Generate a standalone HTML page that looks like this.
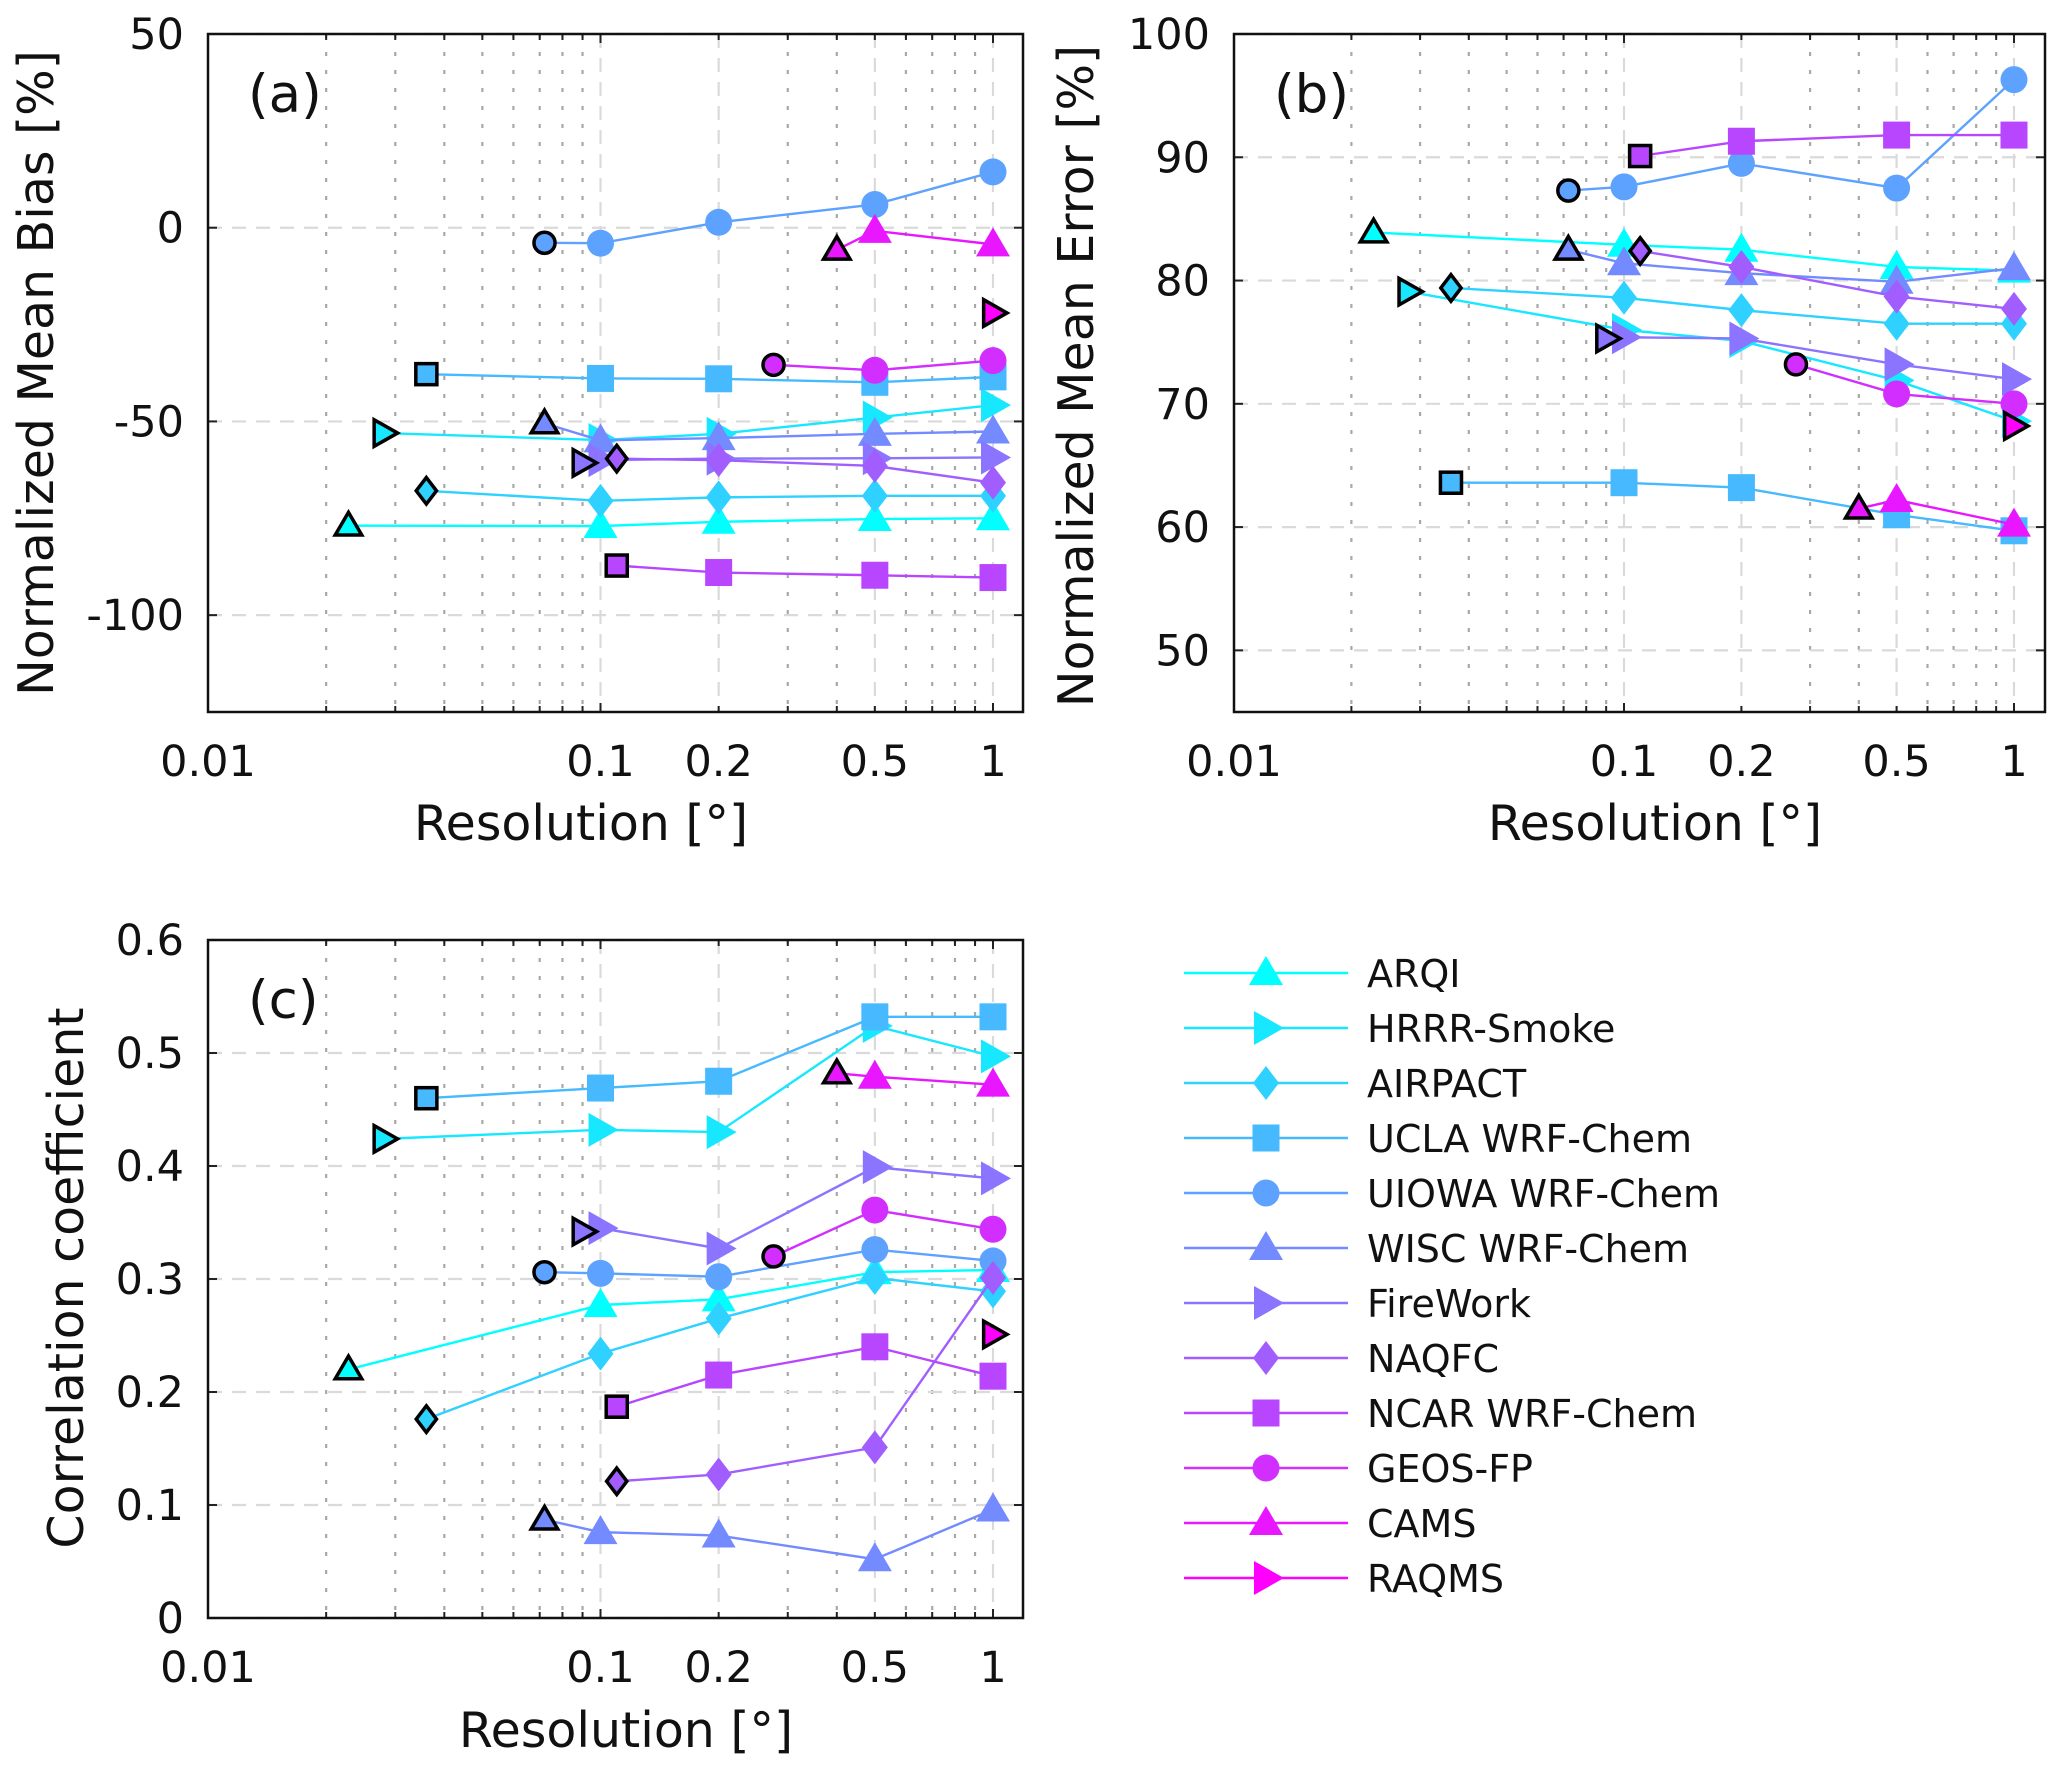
<!DOCTYPE html>
<html><head><meta charset="utf-8">
<style>
html,body{margin:0;padding:0;background:#fff;}
svg{display:block;font-family:"DejaVu Sans","Liberation Sans",sans-serif;}
</style></head>
<body>
<svg id="fig" width="2067" height="1768" viewBox="0 0 2067 1768" xmlns="http://www.w3.org/2000/svg"></svg>
<script>
// ---- data ----
const seriesNames = ["ARQI","HRRR-Smoke","AIRPACT","UCLA WRF-Chem","UIOWA WRF-Chem","WISC WRF-Chem","FireWork","NAQFC","NCAR WRF-Chem","GEOS-FP","CAMS","RAQMS"];
const seriesMarkers = ["tu","tr","d","s","c","tu","tr","d","s","c","tu","tr"];
const resARQI = [0.0228,0.1,0.2,0.5,1];
const resHRRR = [0.028,0.1,0.2,0.5,1];
const resAIRPACT = [0.036,0.1,0.2,0.5,1];
const resUCLA = [0.036,0.1,0.2,0.5,1];
const resUIOWA = [0.072,0.1,0.2,0.5,1];
const resWISC = [0.072,0.1,0.2,0.5,1];
const resFireWork = [0.09,0.1,0.2,0.5,1];
const resNAQFC = [0.11,0.2,0.5,1];
const resNCAR = [0.11,0.2,0.5,1];
const resGEOS = [0.276,0.5,1];
const resCAMS = [0.4,0.5,1];
const resRAQMS = [1];
const seriesRes = [resARQI,resHRRR,resAIRPACT,resUCLA,resUIOWA,resWISC,resFireWork,resNAQFC,resNCAR,resGEOS,resCAMS,resRAQMS];

// panel (a) Normalized Mean Bias
const nmbARQI = [-76.9,-77,-75.9,-75.2,-75];
const nmbHRRR = [-53,-54.8,-53.2,-49,-45.8];
const nmbAIRPACT = [-67.9,-70.5,-69.6,-69.2,-69.2];
const nmbUCLA = [-37.8,-38.9,-39,-39.9,-38.5];
const nmbUIOWA = [-3.9,-4,1.4,6,14.4];
const nmbWISC = [-50.5,-54.9,-54.3,-53.2,-52.6];
const nmbFireWork = [-60.7,-60,-59.6,-59.5,-59.3];
const nmbNAQFC = [-59.6,-60,-61.5,-65.8];
const nmbNCAR = [-87.2,-89,-89.7,-90.3];
const nmbGEOS = [-35.4,-36.8,-34.3];
const nmbCAMS = [-5.7,-0.8,-4.3];
const nmbRAQMS = [-22];
const nmbValues = [nmbARQI,nmbHRRR,nmbAIRPACT,nmbUCLA,nmbUIOWA,nmbWISC,nmbFireWork,nmbNAQFC,nmbNCAR,nmbGEOS,nmbCAMS,nmbRAQMS];

// panel (b) Normalized Mean Error
const nmeARQI = [83.9,82.9,82.5,81.1,80.8];
const nmeHRRR = [79.1,76,75.1,71.9,68.6];
const nmeAIRPACT = [79.4,78.6,77.6,76.5,76.5];
const nmeUCLA = [63.6,63.6,63.2,61,59.7];
const nmeUIOWA = [87.3,87.6,89.5,87.5,96.3];
const nmeWISC = [82.5,81.4,80.6,79.9,81];
const nmeFireWork = [75.3,75.4,75.3,73.2,72];
const nmeNAQFC = [82.4,81.1,78.7,77.7];
const nmeNCAR = [90.1,91.3,91.8,91.8];
const nmeGEOS = [73.2,70.8,70];
const nmeCAMS = [61.5,62.2,60.2];
const nmeRAQMS = [68.2];
const nmeValues = [nmeARQI,nmeHRRR,nmeAIRPACT,nmeUCLA,nmeUIOWA,nmeWISC,nmeFireWork,nmeNAQFC,nmeNCAR,nmeGEOS,nmeCAMS,nmeRAQMS];

// panel (c) Correlation coefficient
const corARQI = [0.220,0.277,0.282,0.306,0.308];
const corHRRR = [0.424,0.432,0.430,0.524,0.497];
const corAIRPACT = [0.176,0.234,0.265,0.301,0.289];
const corUCLA = [0.460,0.469,0.475,0.532,0.532];
const corUIOWA = [0.306,0.305,0.302,0.326,0.316];
const corWISC = [0.087,0.076,0.073,0.052,0.096];
const corFireWork = [0.342,0.345,0.327,0.399,0.389];
const corNAQFC = [0.121,0.127,0.151,0.301];
const corNCAR = [0.187,0.215,0.240,0.214];
const corGEOS = [0.320,0.361,0.344];
const corCAMS = [0.482,0.479,0.472];
const corRAQMS = [0.251];
const corValues = [corARQI,corHRRR,corAIRPACT,corUCLA,corUIOWA,corWISC,corFireWork,corNAQFC,corNCAR,corGEOS,corCAMS,corRAQMS];

const xTickVals = [0.01,0.1,0.2,0.5,1];
const xTickLabels = ["0.01","0.1","0.2","0.5","1"];
const yTicksA = [-100,-50,0,50];
const yTicksB = [50,60,70,80,90,100];
const yTicksC = [0,0.1,0.2,0.3,0.4,0.5,0.6];
const yTickLabelsC = ["0","0.1","0.2","0.3","0.4","0.5","0.6"];

// ---- drawing ----
const NS="http://www.w3.org/2000/svg";
const svg=document.getElementById('fig');
function mk(tag,attrs,parent){const e=document.createElementNS(NS,tag);for(const k in attrs)e.setAttribute(k,attrs[k]);(parent||svg).appendChild(e);return e;}
function color(i){const t=i/11;return `rgb(${Math.round(255*t)},${Math.round(255*(1-t))},255)`;}

function marker(g,type,x,y,fill,stroke,sw,s){
  let e; s=s||1;
  if(type==='c') e=mk('circle',{cx:x,cy:y,r:13.5*s},g);
  else if(type==='s') e=mk('rect',{x:x-13.5*s,y:y-13.5*s,width:27*s,height:27*s},g);
  else if(type==='d') e=mk('polygon',{points:`${x},${y-17*s} ${x+13*s},${y} ${x},${y+17*s} ${x-13*s},${y}`},g);
  else if(type==='tu') e=mk('polygon',{points:`${x},${y-17*s} ${x+17*s},${y+12*s} ${x-17*s},${y+12*s}`},g);
  else e=mk('polygon',{points:`${x+18*s},${y} ${x-12*s},${y+17*s} ${x-12*s},${y-17*s}`},g);
  e.setAttribute('fill',fill);
  e.setAttribute('stroke',stroke);
  e.setAttribute('stroke-width',sw);
  e.setAttribute('stroke-linejoin','miter');
  
  
  return e;
}

function panel(opt){
  const {L,R,X1,T,B,ymin,ymax,yTicks,yLabels,values,ylabel,plabel,yLabX,yLabY,xLabX,xLabY,pname}=opt;
  const g=mk('g',{});
  
  
  const dec=(X1-L)/2;
  const xs=v=>L+(Math.log10(v)+2)*dec;
  const ys=v=>B-(v-ymin)/(ymax-ymin)*(B-T);
  for(let d=-2;d<=0;d++)for(let m=2;m<=9;m++){const v=m*Math.pow(10,d);const px=xs(v);if(px>R)continue;
    if([0.2,0.5].some(t=>Math.abs(t-v)<1e-9))continue;
    const l=mk('line',{x1:px,x2:px,y1:T,y2:B,stroke:'#a8a8a8','stroke-width':2.2,'stroke-dasharray':'4 14'},g);
    }
  xTickVals.forEach(v=>{const px=xs(v);const l=mk('line',{x1:px,x2:px,y1:T,y2:B,stroke:'#dadada','stroke-width':2.2,'stroke-dasharray':'14 10'},g);
    });
  yTicks.forEach(v=>{const py=ys(v);const l=mk('line',{x1:L,x2:R,y1:py,y2:py,stroke:'#dadada','stroke-width':2.2,'stroke-dasharray':'14 10'},g);
    });
  for(let d=-2;d<=0;d++)for(let m=1;m<=9;m++){const v=m*Math.pow(10,d);const px=xs(v);if(px>R)continue;const len=(m===1)?9:6;
    mk('line',{x1:px,x2:px,y1:B,y2:B-len,stroke:'#222','stroke-width':2},g);
    mk('line',{x1:px,x2:px,y1:T,y2:T+len,stroke:'#222','stroke-width':2},g);}
  yTicks.forEach(v=>{const py=ys(v);mk('line',{x1:L,x2:L+9,y1:py,y2:py,stroke:'#222','stroke-width':2},g);mk('line',{x1:R,x2:R-9,y1:py,y2:py,stroke:'#222','stroke-width':2},g);});
  for(let i=0;i<12;i++){
    const sg=mk('g',{},g);
    
    
    const xv=seriesRes[i],yv=values[i];
    const pts=xv.map((x,k)=>xs(x)+','+ys(yv[k])).join(' ');
    if(xv.length>1){const pl=mk('polyline',{points:pts,fill:'none',stroke:color(i),'stroke-width':2.4},sg);
      }
    for(let k=xv.length-1;k>=0;k--){
      if(k===0) marker(sg,seriesMarkers[i],xs(xv[k]),ys(yv[k]),color(i),'#000',3.5,0.78);
      else marker(sg,seriesMarkers[i],xs(xv[k]),ys(yv[k]),color(i),'none',0,1);
    }
  }
  const f=mk('rect',{x:L,y:T,width:R-L,height:B-T,fill:'none',stroke:'#111','stroke-width':2.5},g);
  
  xTickVals.forEach((v,k)=>{const t=mk('text',{x:xs(v),y:B+64,'font-size':43,'text-anchor':'middle',fill:'#111'},g);t.textContent=xTickLabels[k];
    });
  yTicks.forEach((v,k)=>{const t=mk('text',{x:L-24,y:ys(v)+15,'font-size':43,'text-anchor':'end',fill:'#111'},g);t.textContent=yLabels[k];
    });
  const xl=mk('text',{x:xLabX,y:xLabY+17,'font-size':49,'text-anchor':'middle',fill:'#111'},g);xl.textContent='Resolution [°]';
  
  const yl=mk('text',{x:0,y:0,'font-size':49,'text-anchor':'middle',fill:'#111',transform:`translate(${yLabX+17},${yLabY}) rotate(-90)`},g);yl.textContent=ylabel;
  
  const pl=mk('text',{x:L+40,y:T+78,'font-size':53,fill:'#111'},g);pl.textContent=plabel;
  
}

panel({pname:'panel-a',L:208,R:1023,X1:993,T:34,B:712,ymin:-125,ymax:50,yTicks:yTicksA,yLabels:yTicksA.map(String),values:nmbValues,ylabel:'Normalized Mean Bias [%]',plabel:'(a)',yLabX:36,yLabY:373,xLabX:581,xLabY:823});
panel({pname:'panel-b',L:1234,R:2045,X1:2014,T:34,B:712,ymin:45,ymax:100,yTicks:yTicksB,yLabels:yTicksB.map(String),values:nmeValues,ylabel:'Normalized Mean Error [%]',plabel:'(b)',yLabX:1076,yLabY:376,xLabX:1655,xLabY:823});
panel({pname:'panel-c',L:208,R:1023,X1:993,T:940,B:1618,ymin:0,ymax:0.6,yTicks:yTicksC,yLabels:yTickLabelsC,values:corValues,ylabel:'Correlation coefficient',plabel:'(c)',yLabX:66,yLabY:1278,xLabX:626,xLabY:1730});

const lg=mk('g',{});


seriesNames.forEach((n,i)=>{
  const y=973+i*55;
  const eg=mk('g',{},lg);
  
  
  mk('line',{x1:1184,x2:1348,y1:y,y2:y,stroke:color(i),'stroke-width':2.4},eg);
  marker(eg,seriesMarkers[i],1266,y,color(i),'none',0,1);
  const t=mk('text',{x:1367,y:y+14,'font-size':38,fill:'#111'},eg);t.textContent=n;
  
  
});
</script>
</body></html>
